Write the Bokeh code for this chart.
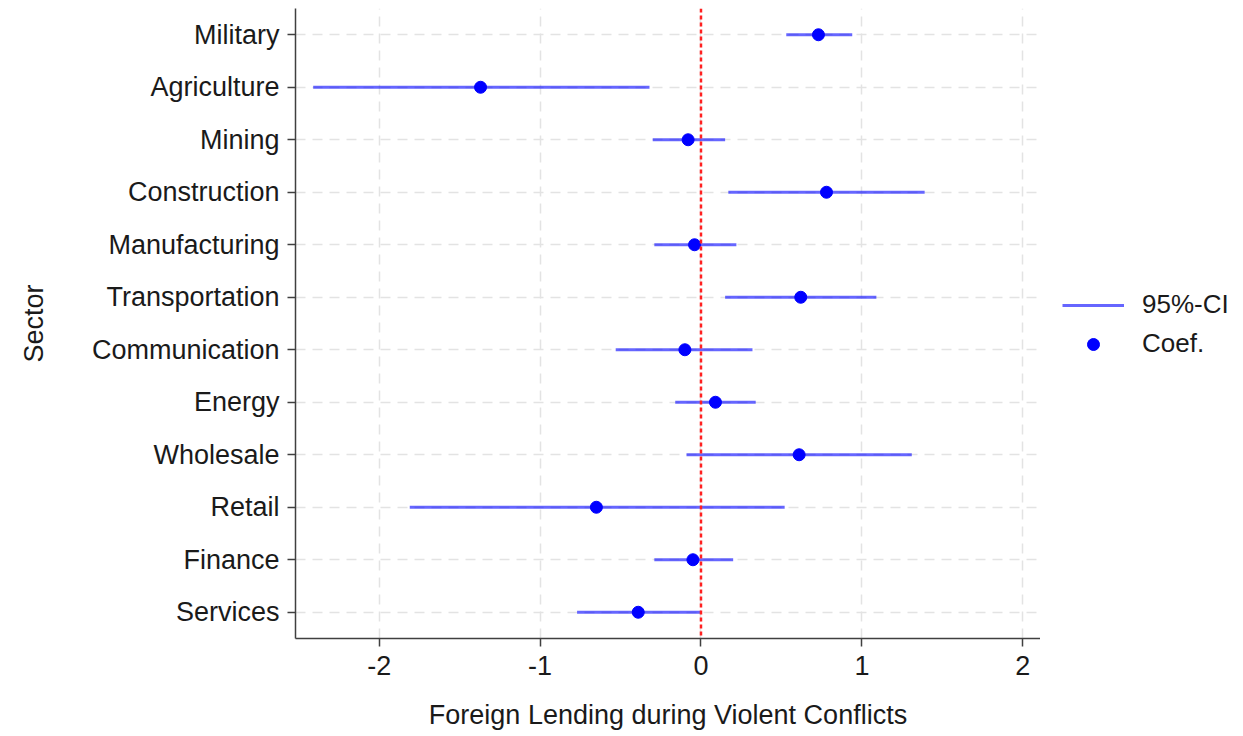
from bokeh.plotting import figure
from bokeh.layouts import row
from bokeh.models import Range1d, FactorRange, FixedTicker, Legend, LegendItem, Span, ColumnDataSource
from bokeh.embed import file_html
from bokeh.resources import INLINE

sectors = ["Military", "Agriculture", "Mining", "Construction", "Manufacturing",
           "Transportation", "Communication", "Energy", "Wholesale", "Retail",
           "Finance", "Services"]
coef = [0.73, -1.37, -0.08, 0.78, -0.04, 0.62, -0.10, 0.09, 0.61, -0.65, -0.05, -0.39]
ci_low = [0.53, -2.41, -0.30, 0.17, -0.29, 0.15, -0.53, -0.16, -0.09, -1.81, -0.29, -0.77]
ci_high = [0.94, -0.32, 0.15, 1.39, 0.22, 1.09, 0.32, 0.34, 1.31, 0.52, 0.20, 0.00]
x_ticks = [-2, -1, 0, 1, 2]
x_tick_labels = ["-2", "-1", "0", "1", "2"]
legend_labels = ["95%-CI", "Coef."]

FONT = "Liberation Sans"
CI_STYLE = dict(line_color="#0000ff", line_alpha=0.6, line_width=3)
DOT_STYLE = dict(size=12, fill_color="#0000ff", line_color="#0000ff")

src = ColumnDataSource(dict(sector=sectors, coef=coef, lo=ci_low, hi=ci_high))

p = figure(
    y_range=FactorRange(factors=list(reversed(sectors))),
    x_range=Range1d(-2.52, 2.11),
    frame_width=745, frame_height=630,
    min_border_left=295, min_border_top=8, min_border_bottom=90, min_border_right=0,
    output_backend="svg", toolbar_location=None,
    background_fill_color="white", border_fill_color="white",
)
p.outline_line_color = None

# grid
p.xaxis.ticker = FixedTicker(ticks=x_ticks)
p.xaxis.major_label_overrides = {t: s for t, s in zip(x_ticks, x_tick_labels)}
p.xgrid.ticker = FixedTicker(ticks=x_ticks)
for g in (p.xgrid, p.ygrid):
    g.grid_line_color = "#e3e3e3"
    g.grid_line_width = 1.5
    g.grid_line_dash = "10 7"

# CI segments
seg = p.segment(x0="lo", x1="hi", y0="sector", y1="sector", source=src, **CI_STYLE)

# zero line
zero = Span(location=0, dimension="height", line_color="#ff2020", line_width=2.5,
            line_dash="4 3")
p.add_layout(zero)

dots = p.scatter(x="coef", y="sector", source=src, **DOT_STYLE)

# axes
for ax in (p.xaxis[0], p.yaxis[0]):
    ax.axis_line_color = "#404040"
    ax.axis_line_width = 1.5
    ax.major_tick_line_color = "#404040"
    ax.major_tick_line_width = 1.5
    ax.major_tick_in = 0
    ax.major_tick_out = 8
    ax.minor_tick_line_color = None
    ax.major_label_text_font = FONT
    ax.major_label_text_font_size = "27px"
    ax.major_label_text_color = "#1a1a1a"
    ax.axis_label_text_font = FONT
    ax.axis_label_text_font_size = "27px"
    ax.axis_label_text_font_style = "normal"
    ax.axis_label_text_color = "#1a1a1a"

p.xaxis.axis_label = "Foreign Lending during Violent Conflicts"
p.xaxis.major_label_standoff = 9
p.xaxis.axis_label_standoff = 22
p.yaxis.axis_label = "Sector"
p.yaxis.major_label_standoff = 8
p.yaxis.axis_label_standoff = 40

# legend panel (separate figure to the right; its data lies outside its own x range)
lf = figure(width=195, height=728, x_range=Range1d(100, 101),
            y_range=FactorRange(factors=list(reversed(sectors))),
            min_border=0, output_backend="svg", toolbar_location=None,
            background_fill_color="white", border_fill_color="white")
lf.outline_line_color = None
lf.axis.visible = False
lf.grid.visible = False
lseg = lf.segment(x0="lo", x1="hi", y0="sector", y1="sector", source=src, **CI_STYLE)
ldot = lf.scatter(x="coef", y="sector", source=src, **DOT_STYLE)

legend = Legend(items=[LegendItem(label=legend_labels[0], renderers=[lseg]),
                       LegendItem(label=legend_labels[1], renderers=[ldot])],
                location=(22, 275))
legend.border_line_color = None
legend.background_fill_alpha = 0
legend.label_text_font = FONT
legend.label_text_font_size = "26px"
legend.label_text_color = "#1a1a1a"
legend.glyph_width = 62
legend.glyph_height = 30
legend.label_height = 30
legend.spacing = 8
legend.label_standoff = 18
legend.margin = 0
legend.padding = 4
lf.add_layout(legend, "center")

layout = row(p, lf, spacing=0)
open("out.html", "w").write(file_html(layout, INLINE))
